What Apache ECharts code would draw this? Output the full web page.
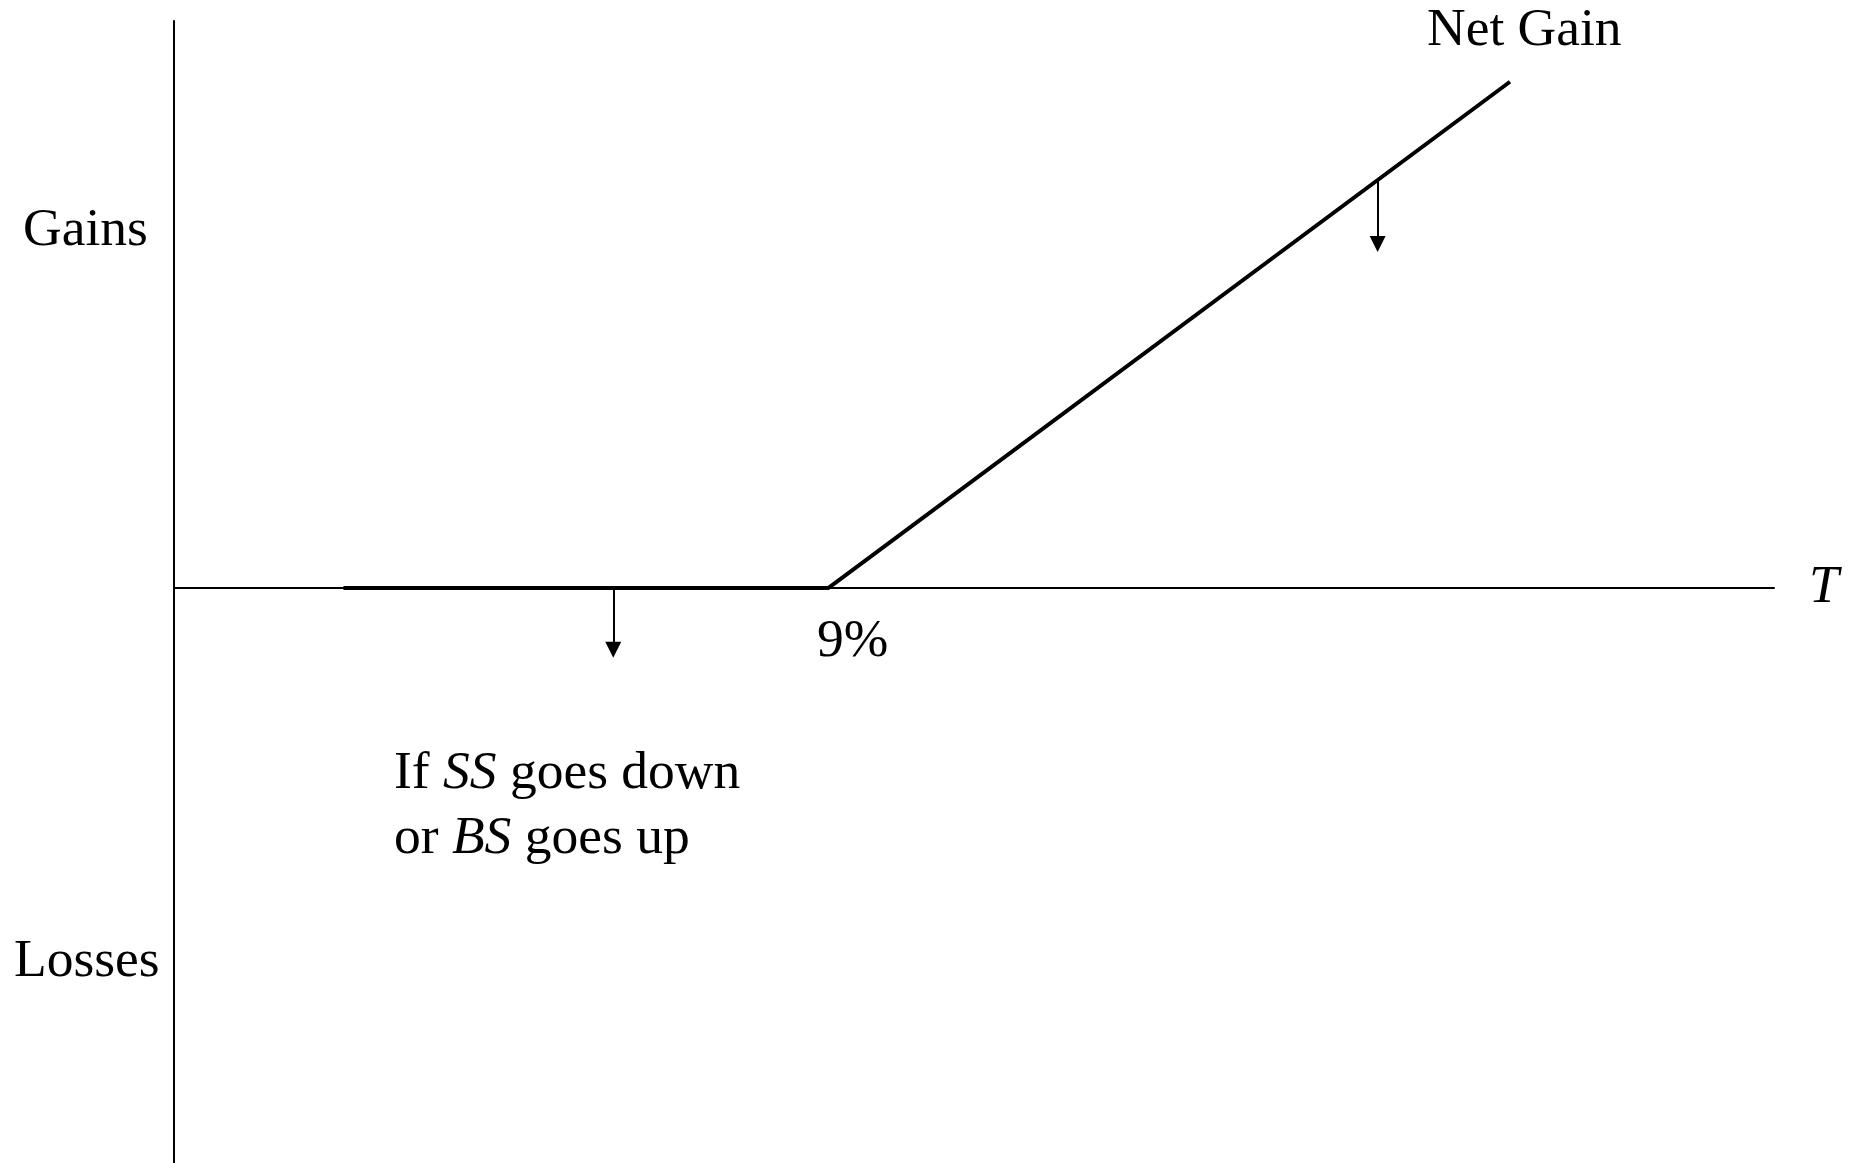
<!DOCTYPE html>
<html>
<head>
    <meta charset="utf-8">
    <title>Net Gain</title>
    <script src="https://cdn.jsdelivr.net/npm/echarts@6/dist/echarts.min.js"></script>
    <style>
        html, body { margin: 0; padding: 0; background: #fff; }
        #main { width: 1854px; height: 1163px; }
    </style>
</head>
<body>
<div id="main"></div>
<script type="text/javascript">
    // payoff line: T (%) against gain
    var netGain = [[2.33, 0], [9, 0], [18.37, 9.33]];
    // arrows: [T, gain from, gain to]
    var arrows = [[6.04, 0, -1.14], [16.55, 7.55, 6.34]];
    // tick label on the T axis
    var tickValues = [9];
    var tickLabels = ['9%'];
    var xRange = [0, 22];
    var yRange = [-10.6, 10.45];

    var serif = '"Liberation Serif", "Times New Roman", serif';
    var fs = 53.5;
    var myChart = echarts.init(document.getElementById('main'));

    var arrowLines = arrows.map(function (a) {
        return [{coord: [a[0], a[1]]}, {coord: [a[0], a[2]]}];
    });
    var tickMarks = tickValues.map(function (v, i) {
        return {coord: [v, 0], value: tickLabels[i]};
    });

    var option = {
        animation: false,
        backgroundColor: '#fff',
        grid: {left: 174, right: 80, top: 21, bottom: 0, containLabel: false, outerBoundsMode: 'none'},
        xAxis: {
            type: 'value',
            min: xRange[0],
            max: xRange[1],
            interval: 1,
            name: 'T',
            nameLocation: 'end',
            nameGap: 35,
            nameTextStyle: {
                fontFamily: serif, fontSize: fs, fontStyle: 'italic', color: '#000',
                padding: [0, 0, 10, 0]
            },
            axisLine: {onZero: true, lineStyle: {color: '#000', width: 2}},
            axisTick: {show: false},
            splitLine: {show: false},
            axisLabel: {show: false}
        },
        yAxis: {
            type: 'value',
            min: yRange[0],
            max: yRange[1],
            axisLine: {show: true, lineStyle: {color: '#000', width: 2}},
            axisTick: {show: false},
            splitLine: {show: false},
            axisLabel: {show: false}
        },
        series: [{
            type: 'line',
            data: netGain,
            symbol: 'none',
            silent: true,
            lineStyle: {color: '#000', width: 4},
            markLine: {
                silent: true,
                symbol: ['none', 'triangle'],
                symbolSize: 16,
                label: {show: false},
                lineStyle: {color: '#000', width: 2, type: 'solid'},
                emphasis: {disabled: true},
                data: arrowLines
            },
            markPoint: {
                silent: true,
                symbol: 'circle',
                symbolSize: 0,
                label: {
                    show: true,
                    position: 'bottom',
                    distance: 27,
                    offset: [24, 0],
                    formatter: function (p) { return p.value; },
                    fontFamily: serif,
                    fontSize: fs,
                    color: '#000'
                },
                data: tickMarks
            }
        }],
        graphic: [
            {type: 'text', left: 23, top: 204,
                style: {text: 'Gains', font: fs + 'px ' + serif, fill: '#000'}},
            {type: 'text', left: 14, top: 935,
                style: {text: 'Losses', font: fs + 'px ' + serif, fill: '#000'}},
            {type: 'text', left: 1427, top: 4,
                style: {text: 'Net Gain', font: fs + 'px ' + serif, fill: '#000'}},
            {type: 'text', left: 394, top: 741,
                style: {
                    text: 'If {i|SS} goes down\nor {i|BS} goes up',
                    font: fs + 'px ' + serif,
                    fill: '#000',
                    lineHeight: 65,
                    rich: {
                        i: {fontStyle: 'italic', fontFamily: serif, fontSize: fs, lineHeight: 65}
                    }
                }}
        ]
    };

    myChart.setOption(option);
</script>
</body>
</html>
